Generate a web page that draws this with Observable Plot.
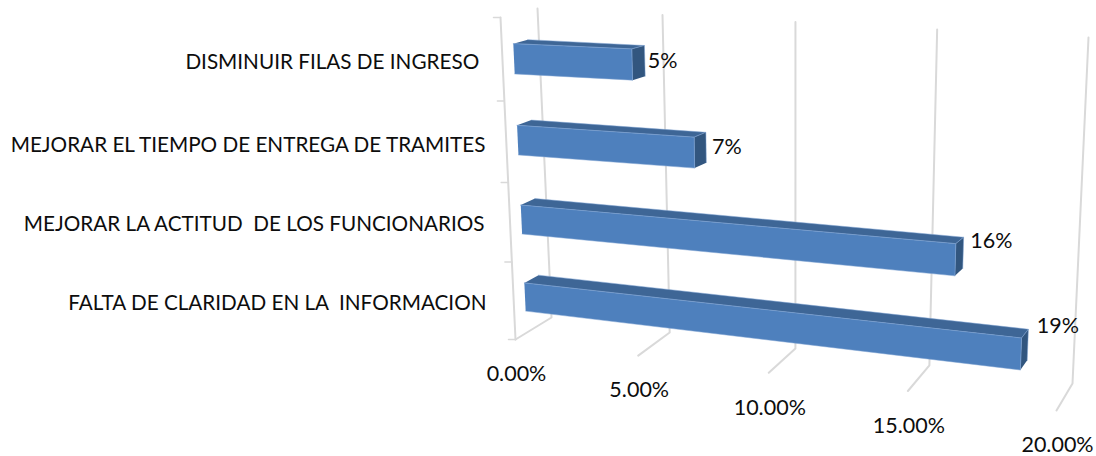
<!DOCTYPE html>
<html>
<head>
<meta charset="utf-8">
<style>
html,body{margin:0;padding:0;background:#fff}
svg text{white-space:pre}
</style>
<script src="https://cdn.jsdelivr.net/npm/d3@7"></script>
<script src="https://cdn.jsdelivr.net/npm/@observablehq/plot@0.6"></script>
</head>
<body>
<div id="chart"></div>
<script>
const categories = [
  "FALTA DE CLARIDAD EN LA  INFORMACION",
  "MEJORAR LA ACTITUD  DE LOS FUNCIONARIOS",
  "MEJORAR EL TIEMPO DE ENTREGA DE TRAMITES",
  "DISMINUIR FILAS DE INGRESO "
];
const values = [18.6, 16.3, 6.95, 4.65];
const valueLabels = ["19%", "16%", "7%", "5%"];
const axisTicks = [0, 5, 10, 15, 20];
const axisLabels = ["0.00%", "5.00%", "10.00%", "15.00%", "20.00%"];

// Perspective view of the chart box (layout, not data)
const W = 1096, H = 456, vMax = 20;
const box = {
  fbl: [515, 339], fbr: [1056, 410], bbl: [551, 317], bbr: [1072, 383],
  ftl: [500, 17], ftr: [1072, 38], btl: [537, 8], btr: [1088, 37]
};
const warp = (t, k) => t / (t + k * (1 - t));
const mix = (a, b, t) => a + (b - a) * t;
// v: value, u: 0..1 up the category axis, d: 0..1 into the depth
function project(v, u, d) {
  const t = warp(v / vMax, 1.136), h = warp(u, 1.05);
  return [0, 1].map(i => {
    const front = mix(mix(box.fbl[i], box.fbr[i], t), mix(box.ftl[i], box.ftr[i], t), h);
    const back = mix(mix(box.bbl[i], box.bbr[i], t), mix(box.btl[i], box.btr[i], t), h);
    return mix(front, back, d);
  });
}
const pt = (id, p, extra) => ({id, x: p[0], y: p[1], ...extra});

// Grid: back wall + floor for every value tick
const grid = axisTicks.flatMap(v => [
  pt("g" + v, project(v, 1, 1)),
  pt("g" + v, project(v, 0, 1)),
  pt("g" + v, project(v, 0, 0))
]);
// Category axis on the front left edge, with outward ticks
const catAxis = [pt("a", project(0, 1, 0)), pt("a", project(0, 0, 0))];
const catTicks = d3.range(categories.length + 1).flatMap(i => {
  const p = project(0, i / categories.length, 0);
  return [pt("t" + i, p), pt("t" + i, [p[0] - 7, p[1]])];
});

// Bars as three projected faces
const halfBar = 0.046, d0 = 0.31, d1 = 0.70, rise = 0.007;
const faces = values.flatMap((v, i) => {
  const c = (i + 0.5) / categories.length - 0.008;
  const lift = x => rise * x / vMax;
  const lo = x => c - halfBar + lift(x), hi = x => c + halfBar + lift(x);
  const face = (part, fill, corners) =>
    corners.map(q => pt(part + i, project(...q), {fill}));
  return [
    ...face("top", "#3e6696", [[0, hi(0), d0], [v, hi(v), d0], [v, hi(v), d1], [0, hi(0), d1]]),
    ...face("side", "#32567f", [[v, lo(v), d0], [v, hi(v), d0], [v, hi(v), d1], [v, lo(v), d1]]),
    ...face("front", "#4e80bd", [[0, lo(0), d0], [v, lo(v), d0], [v, hi(v), d0], [0, hi(0), d0]])
  ];
});

// Labels
const tickText = axisTicks.map((v, i) => {
  const p = project(v, 0, 0);
  return {x: p[0] + 1, y: p[1] + 35, text: axisLabels[i]};
});
const catRight = [486, 484, 485, 484], catY = [303, 224, 145, 62];
const catText = categories.map((c, i) => ({x: catRight[i], y: catY[i], text: c}));
const labelDx = [9, 7, 6, 3], labelY = [326, 241, 147, 61];
const valText = values.map((v, i) => {
  const p = project(v, (i + 0.5) / categories.length, d1);
  return {x: p[0] + labelDx[i], y: labelY[i], text: valueLabels[i]};
});

const catFont = {fontFamily: "Lato, Carlito, sans-serif", fontSize: 20.7, fill: "#0d0d0d"};
const numFont = {fontFamily: "Lato, Carlito, sans-serif", fontSize: 21.5, fill: "#0d0d0d"};

const chart = Plot.plot({
  width: W, height: H,
  margin: 0,
  x: {domain: [0, W], range: [0, W], axis: null},
  y: {domain: [0, H], range: [0, H], axis: null},
  marks: [
    Plot.line(grid, {x: "x", y: "y", z: "id", stroke: "#d9d9d9", strokeWidth: 2, curve: "linear"}),
    Plot.line(catAxis, {x: "x", y: "y", z: "id", stroke: "#d9d9d9", strokeWidth: 2}),
    Plot.line(catTicks, {x: "x", y: "y", z: "id", stroke: "#d9d9d9", strokeWidth: 1.5}),
    Plot.line(faces, {x: "x", y: "y", z: "id", fill: d => d.fill, stroke: "#7ea3d2", strokeWidth: 0.5}),
    Plot.text(tickText, {x: "x", y: "y", text: "text", textAnchor: "middle", ...numFont}),
    Plot.text(catText, {x: "x", y: "y", text: "text", textAnchor: "end", ...catFont}),
    Plot.text(valText, {x: "x", y: "y", text: "text", textAnchor: "start", ...numFont})
  ]
});
chart.style.background = "#fff";
chart.style.display = "block";
document.getElementById("chart").append(chart);
</script>
</body>
</html>
